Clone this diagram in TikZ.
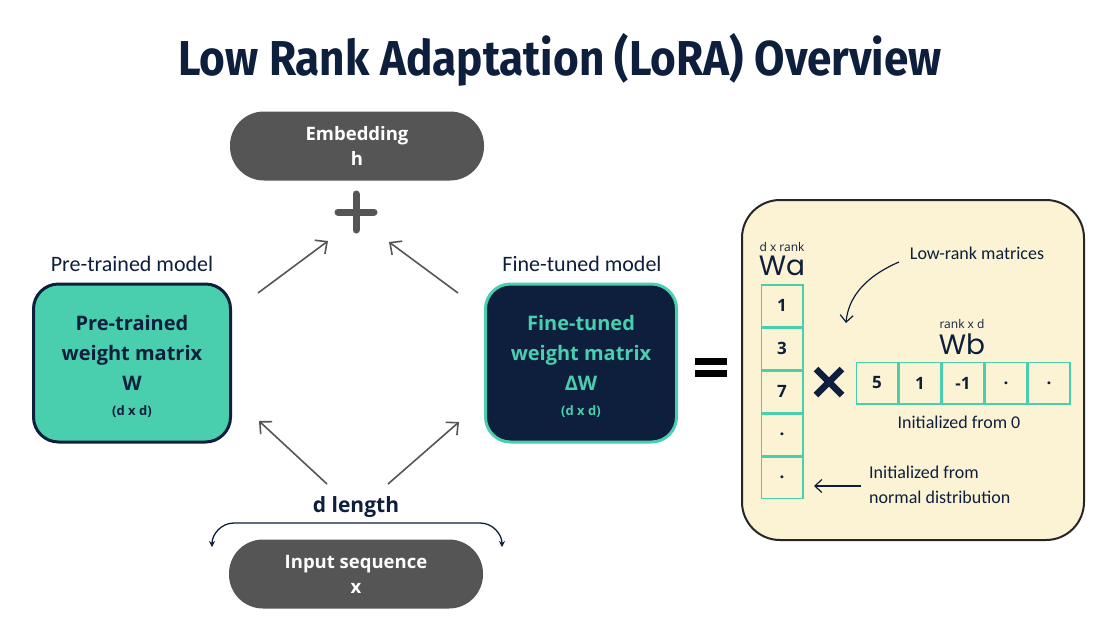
\documentclass[tikz,border=0pt]{standalone}
\usepackage{fontspec}
\usepackage{graphicx}
\setmainfont{Open Sans}
\newfontfamily\handfont{Carlito}
\newfontfamily\titlefont{Fira Sans}
\newfontfamily\wfont{Poppins}
\usetikzlibrary{arrows.meta,calc}
\definecolor{navy}{HTML}{0D1F3C}
\definecolor{mint}{HTML}{4ACFAE}
\definecolor{pillgray}{HTML}{555555}
\definecolor{cream}{HTML}{FCF3D4}
\tikzset{
  pillnode/.style={fill=pillgray, text=white, rounded corners=34pt, minimum width=254pt, minimum height=69pt, align=center, font=\fontsize{18.5}{25}\selectfont\bfseries, inner sep=0pt},
  prebox/.style={fill=mint, draw=navy, line width=3pt, rounded corners=25pt, minimum width=197pt, minimum height=158pt, align=center, text=navy, font=\fontsize{20}{30}\selectfont\bfseries, inner sep=0pt},
  finebox/.style={fill=navy, draw=mint, line width=3pt, rounded corners=25pt, minimum width=191pt, minimum height=158pt, align=center, text=mint, font=\fontsize{20}{30}\selectfont\bfseries, inner sep=0pt},
  handlabel/.style={text=navy, font=\handfont\fontsize{22}{26}\selectfont, inner sep=0pt},
  handnote/.style={text=navy, font=\handfont\fontsize{18}{25}\selectfont, inner sep=0pt},
  garrow/.style={draw=pillgray, line width=1.6pt, -{Straight Barb[length=9pt,width=17pt,line width=1.6pt]}},
  narrow/.style={draw=navy, line width=1.2pt, -{Straight Barb[length=7pt,width=13pt,line width=1.2pt]}},
  cell/.style={draw=mint, line width=1.5pt, minimum width=41.5pt, minimum height=41.5pt, inner sep=0pt, text=navy, font=\fontsize{17}{20}\selectfont\bfseries},
  smalllab/.style={text=navy, font=\fontsize{12}{14}\selectfont, inner sep=0pt},
  wlab/.style={text=navy, font=\wfont\fontsize{28}{30}\selectfont, inner sep=0pt},
}
\begin{document}
\begin{tikzpicture}[x=1pt,y=-1pt]
\useasboundingbox (0,0) rectangle (1101,625);
\fill[white] (0,0) rectangle (1101,625);

% title
\node[text=navy, inner sep=0pt] (title) at (560,60) {\scalebox{0.9}[1]{\titlefont\bfseries\fontsize{49}{52}\selectfont Low Rank Adaptation (LoRA) Overview}};

% pills
\node[pillnode] (emb) at (357,146) {Embedding\\h};
\node[pillnode] (inp) at (356,574) {Input sequence\\x};

% plus
\coordinate (plus) at (356,212);
\draw[pillgray, line width=7pt, line cap=round] ($(plus)+(-18,0)$) -- ($(plus)+(18,0)$) ($(plus)+(0,-18)$) -- ($(plus)+(0,18)$);

% model boxes
\node[prebox] (pre) at (132,363) {};
\node[text=navy, align=center, font=\fontsize{20}{30}\selectfont\bfseries, inner sep=0pt] (pretext) at (132,366) {Pre-trained\\weight matrix\\W\\[-5pt]{\fontsize{13}{15}\selectfont (d x d)}};
\node[finebox] (fine) at (581,363) {};
\node[text=mint, align=center, font=\fontsize{20}{30}\selectfont\bfseries, inner sep=0pt] (finetext) at (581,366) {Fine-tuned\\weight matrix\\ΔW\\[-5pt]{\fontsize{13}{15}\selectfont (d x d)}};
\node[handlabel] (prelab) at (132,264) {Pre-trained model};
\node[handlabel] (finelab) at (582,264) {Fine-tuned model};

% arrows
\coordinate (ul0) at (258,293); \coordinate (ul1) at (328,241);
\coordinate (ur0) at (458,293); \coordinate (ur1) at (389,242);
\coordinate (ll0) at (327,484); \coordinate (ll1) at (259,421);
\coordinate (lr0) at (388,484); \coordinate (lr1) at (459,422);
\draw[garrow] (ul0) -- (ul1);
\draw[garrow] (ur0) -- (ur1);
\draw[garrow] (ll0) -- (ll1);
\draw[garrow] (lr0) -- (lr1);

% d length
\node[text=navy, inner sep=0pt, font=\fontsize{21}{24}\selectfont\bfseries] (dlen) at (356,507) {d length};
\coordinate (brl) at (212,547); \coordinate (brr) at (502,547);
\draw[navy, line width=1.3pt, {Stealth[length=6pt,width=6pt]}-{Stealth[length=6pt,width=6pt]}]
  (brl) to[out=90,in=180] (234,523) -- (480,523) to[out=0,in=90] (brr);

% equals
\coordinate (eq) at (711,367);
\draw[black, line width=7pt] ($(eq)+(-16,-6)$) -- ($(eq)+(16,-6)$) ($(eq)+(-16,6)$) -- ($(eq)+(16,6)$);

% panel
\node[fill=cream, draw=black!85, line width=2pt, rounded corners=38pt, minimum width=342pt, minimum height=340pt] (panel) at (913,370) {};

% Wa
\node[smalllab] (walab) at (782,247) {d x rank};
\node[wlab] (wa) at (782,266) {Wa};
\node[cell] (a1) at (782,305.5) {1};
\node[cell, anchor=north] (a2) at (a1.south) {3};
\node[cell, anchor=north] (a3) at (a2.south) {7};
\node[cell, anchor=north] (a4) at (a3.south) {.};
\node[cell, anchor=north] (a5) at (a4.south) {.};

% times
\coordinate (tm) at (829,382);
\draw[navy, line width=6.5pt] ($(tm)+(-13,-13)$) -- ($(tm)+(13,13)$) ($(tm)+(-13,13)$) -- ($(tm)+(13,-13)$);

% Wb
\node[smalllab] (wblab) at (962,324) {rank x d};
\node[wlab] (wb) at (962,344) {Wb};
\node[cell] (b1) at (877,383) {5};
\node[cell, anchor=west] (b2) at (b1.east) {1};
\node[cell, anchor=west] (b3) at (b2.east) {-1};
\node[cell, anchor=west] (b4) at (b3.east) {.};
\node[cell, anchor=west] (b5) at (b4.east) {.};

% notes
\node[handnote] (lowrank) at (977,253) {Low-rank matrices};
\node[handnote] (zero) at (959,422) {Initialized from 0};
\node[handnote, align=left, anchor=west] (normal) at (869,485) {Initialized from\\normal distribution};
\coordinate (lr) at (899,262); \coordinate (lrt) at (846,323);
\draw[narrow] (lr) .. controls (862,278) and (848,300) .. (lrt);
\coordinate (nd0) at (861,486); \coordinate (nd1) at (814,486);
\draw[narrow] (nd0) -- (nd1);
\end{tikzpicture}
\end{document}
